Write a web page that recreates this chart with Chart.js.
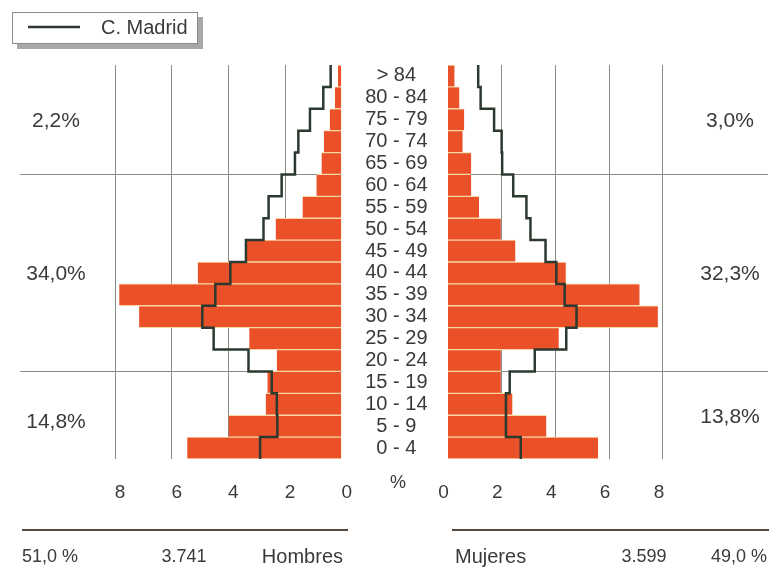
<!DOCTYPE html>
<html>
<head>
<meta charset="utf-8">
<script src="https://cdn.jsdelivr.net/npm/chart.js@4.4.1/dist/chart.umd.min.js"></script>
<style>
html,body{margin:0;padding:0;background:#fff;}
#wrap{position:relative;width:769px;height:578px;overflow:hidden;}
#wrap canvas{position:absolute;left:0;top:0;}
</style>
</head>
<body>
<div id="wrap">
<canvas id="cL" width="769" height="578"></canvas>
<canvas id="cR" width="769" height="578"></canvas>
</div>
<script>
// ---- data ----
const ageGroups = ['> 84','80 - 84','75 - 79','70 - 74','65 - 69','60 - 64','55 - 59','50 - 54','45 - 49','40 - 44','35 - 39','30 - 34','25 - 29','20 - 24','15 - 19','10 - 14','5 - 9','0 - 4'];
const hombres = [0.13,0.24,0.42,0.63,0.71,0.89,1.38,2.33,3.38,5.08,7.85,7.15,3.26,2.29,2.62,2.68,3.99,5.45];
const mujeres = [0.26,0.44,0.62,0.56,0.88,0.88,1.17,1.98,2.52,4.39,7.13,7.81,4.13,1.98,1.98,2.41,3.67,5.59];
const madridHombres = [0.39,0.65,1.12,1.53,1.65,2.12,2.58,2.76,3.38,3.93,4.46,4.92,4.52,3.29,2.47,2.29,2.27,2.88];
const madridMujeres = [1.14,1.23,1.73,2.01,2.03,2.44,2.93,3.08,3.64,4.04,4.35,4.79,4.41,3.24,2.31,2.17,2.17,2.72];
const xTicks = [0,2,4,6,8];
const bandBreaks = [5,14];
const bandLabelsH = ['2,2%','34,0%','14,8%'];
const bandLabelsM = ['3,0%','32,3%','13,8%'];
const totalsH = ['51,0 %','3.741','Hombres'];
const totalsM = ['Mujeres','3.599','49,0 %'];
const legendLabel = 'C. Madrid';
const axisUnit = '%';

// ---- styles ----
const FONT = '"Liberation Sans", Arial, Helvetica, sans-serif';
const TXT = '#3a3a3a';
const BAR = '#ea5128';
const GAP = '#f8d6a2';
const LINE = '#2c392e';
const GRID = '#878c87';
const RULE = '#5a4a3e';

function stepPoints(vals){
  const pts = [];
  vals.forEach((v,i)=>{ pts.push({x:v,y:i-0.5}); pts.push({x:v,y:i+0.5}); });
  return pts;
}

function bandMids(chart){
  const yl = chart.scales.yl;
  const b = [0, ...bandBreaks, ageGroups.length];
  const mids = [];
  for (let i=0;i<b.length-1;i++) mids.push((yl.getPixelForValue(b[i]-0.5)+yl.getPixelForValue(b[i+1]-0.5))/2);
  return mids;
}

const annotL = {
  id:'annotL',
  afterDraw(chart){
    const {ctx} = chart;
    const nudge = [1, 1, 7];
    ctx.save();
    ctx.fillStyle = TXT;
    ctx.textBaseline = 'middle';
    ctx.font = '21px ' + FONT;
    ctx.textAlign = 'center';
    bandMids(chart).forEach((y,i)=> ctx.fillText(bandLabelsH[i], 56, y + nudge[i]));
    // bottom rule
    ctx.strokeStyle = RULE; ctx.lineWidth = 2;
    ctx.beginPath(); ctx.moveTo(22,530); ctx.lineTo(348,530); ctx.stroke();
    ctx.font = '18px ' + FONT;
    ctx.textAlign = 'left'; ctx.fillText(totalsH[0], 22, 557);
    ctx.textAlign = 'center'; ctx.fillText(totalsH[1], 184, 557);
    ctx.font = '20px ' + FONT;
    ctx.textAlign = 'right'; ctx.fillText(totalsH[2], 343, 557);
    // legend box
    ctx.fillStyle = '#a8a8a8';
    ctx.fillRect(17,17,186,32);
    ctx.fillStyle = '#ffffff';
    ctx.fillRect(12,12,186,32);
    ctx.strokeStyle = '#8c8c8c'; ctx.lineWidth = 1;
    ctx.strokeRect(12.5,12.5,185,31);
    ctx.strokeStyle = LINE; ctx.lineWidth = 2.5;
    ctx.beginPath(); ctx.moveTo(28,27); ctx.lineTo(80,27); ctx.stroke();
    ctx.fillStyle = TXT; ctx.font = '20px ' + FONT; ctx.textAlign = 'left';
    ctx.fillText(legendLabel, 101, 28);
    ctx.restore();
  }
};

const annotR = {
  id:'annotR',
  afterDraw(chart){
    const {ctx} = chart;
    const nudge = [1, 1, 2];
    ctx.save();
    ctx.fillStyle = TXT;
    ctx.textBaseline = 'middle';
    ctx.font = '21px ' + FONT;
    ctx.textAlign = 'center';
    bandMids(chart).forEach((y,i)=> ctx.fillText(bandLabelsM[i], 730, y + nudge[i]));
    ctx.font = '18px ' + FONT;
    ctx.fillText(axisUnit, 398, 483);
    ctx.strokeStyle = RULE; ctx.lineWidth = 2;
    ctx.beginPath(); ctx.moveTo(452,530); ctx.lineTo(769,530); ctx.stroke();
    ctx.textAlign = 'center'; ctx.fillText(totalsM[1], 644, 557);
    ctx.textAlign = 'right'; ctx.fillText(totalsM[2], 767, 557);
    ctx.font = '20px ' + FONT;
    ctx.textAlign = 'left'; ctx.fillText(totalsM[0], 455, 557);
    ctx.restore();
  }
};

function makeChart(id, left){
  const vals = left ? hombres : mujeres;
  const line = left ? madridHombres : madridMujeres;
  return new Chart(document.getElementById(id), {
    type:'bar',
    data:{
      labels: ageGroups,
      datasets:[
        {type:'line', label:legendLabel, data:stepPoints(line), xAxisID:'x', yAxisID:'yl',
         borderColor:LINE, borderWidth:2.5, pointRadius:0, fill:false, tension:0, order:0},
        {type:'bar', label: left ? totalsH[2] : totalsM[0], data:vals, xAxisID:'x', yAxisID:'y',
         backgroundColor:BAR, borderColor:GAP, borderWidth:{top:1,bottom:1,left:0,right:0},
         borderSkipped:false, grouped:false, barPercentage:1, categoryPercentage:1, order:1}
      ]
    },
    options:{
      indexAxis:'y', responsive:false, animation:false, events:[],
      layout:{padding: left ? {left:20, right:769-341.7, top:65, bottom:0} : {left:350, right:1, top:65, bottom:0}},
      plugins:{legend:{display:false}, tooltip:{enabled:false}},
      scales:{
        x:{
          type:'linear', position:'bottom', reverse:left, min:0, max: left ? 11.355 : 11.9,
          afterBuildTicks: s => { s.ticks = xTicks.map(v=>({value:v})); },
          afterFit: s => { s.height = 578-459; },
          grid:{drawTicks:false, lineWidth:1, color: c => (c.tick && c.tick.value>0) ? GRID : 'rgba(0,0,0,0)'},
          border:{display:false},
          ticks:{padding:22, labelOffset: left ? 5 : -4, maxRotation:0, autoSkip:false, color:TXT, font:{family:FONT,size:19}}
        },
        y:{
          type:'category', position:'left', offset:true,
          afterFit: s => { s.width = left ? 0 : 97.5; },
          grid:{offset:true, drawTicks:false, lineWidth:1, color: c => bandBreaks.includes(c.index) ? GRID : 'rgba(0,0,0,0)'},
          border:{display:false},
          ticks:{display:!left, crossAlign:'center', padding:20, autoSkip:false, color:TXT, font:{family:FONT,size:20}}
        },
        yl:{type:'linear', display:false, offset:false, grace:0, min:-0.5, max:17.5, reverse:true}
      }
    },
    plugins:[left ? annotL : annotR]
  });
}

makeChart('cL', true);
makeChart('cR', false);
</script>
</body>
</html>
